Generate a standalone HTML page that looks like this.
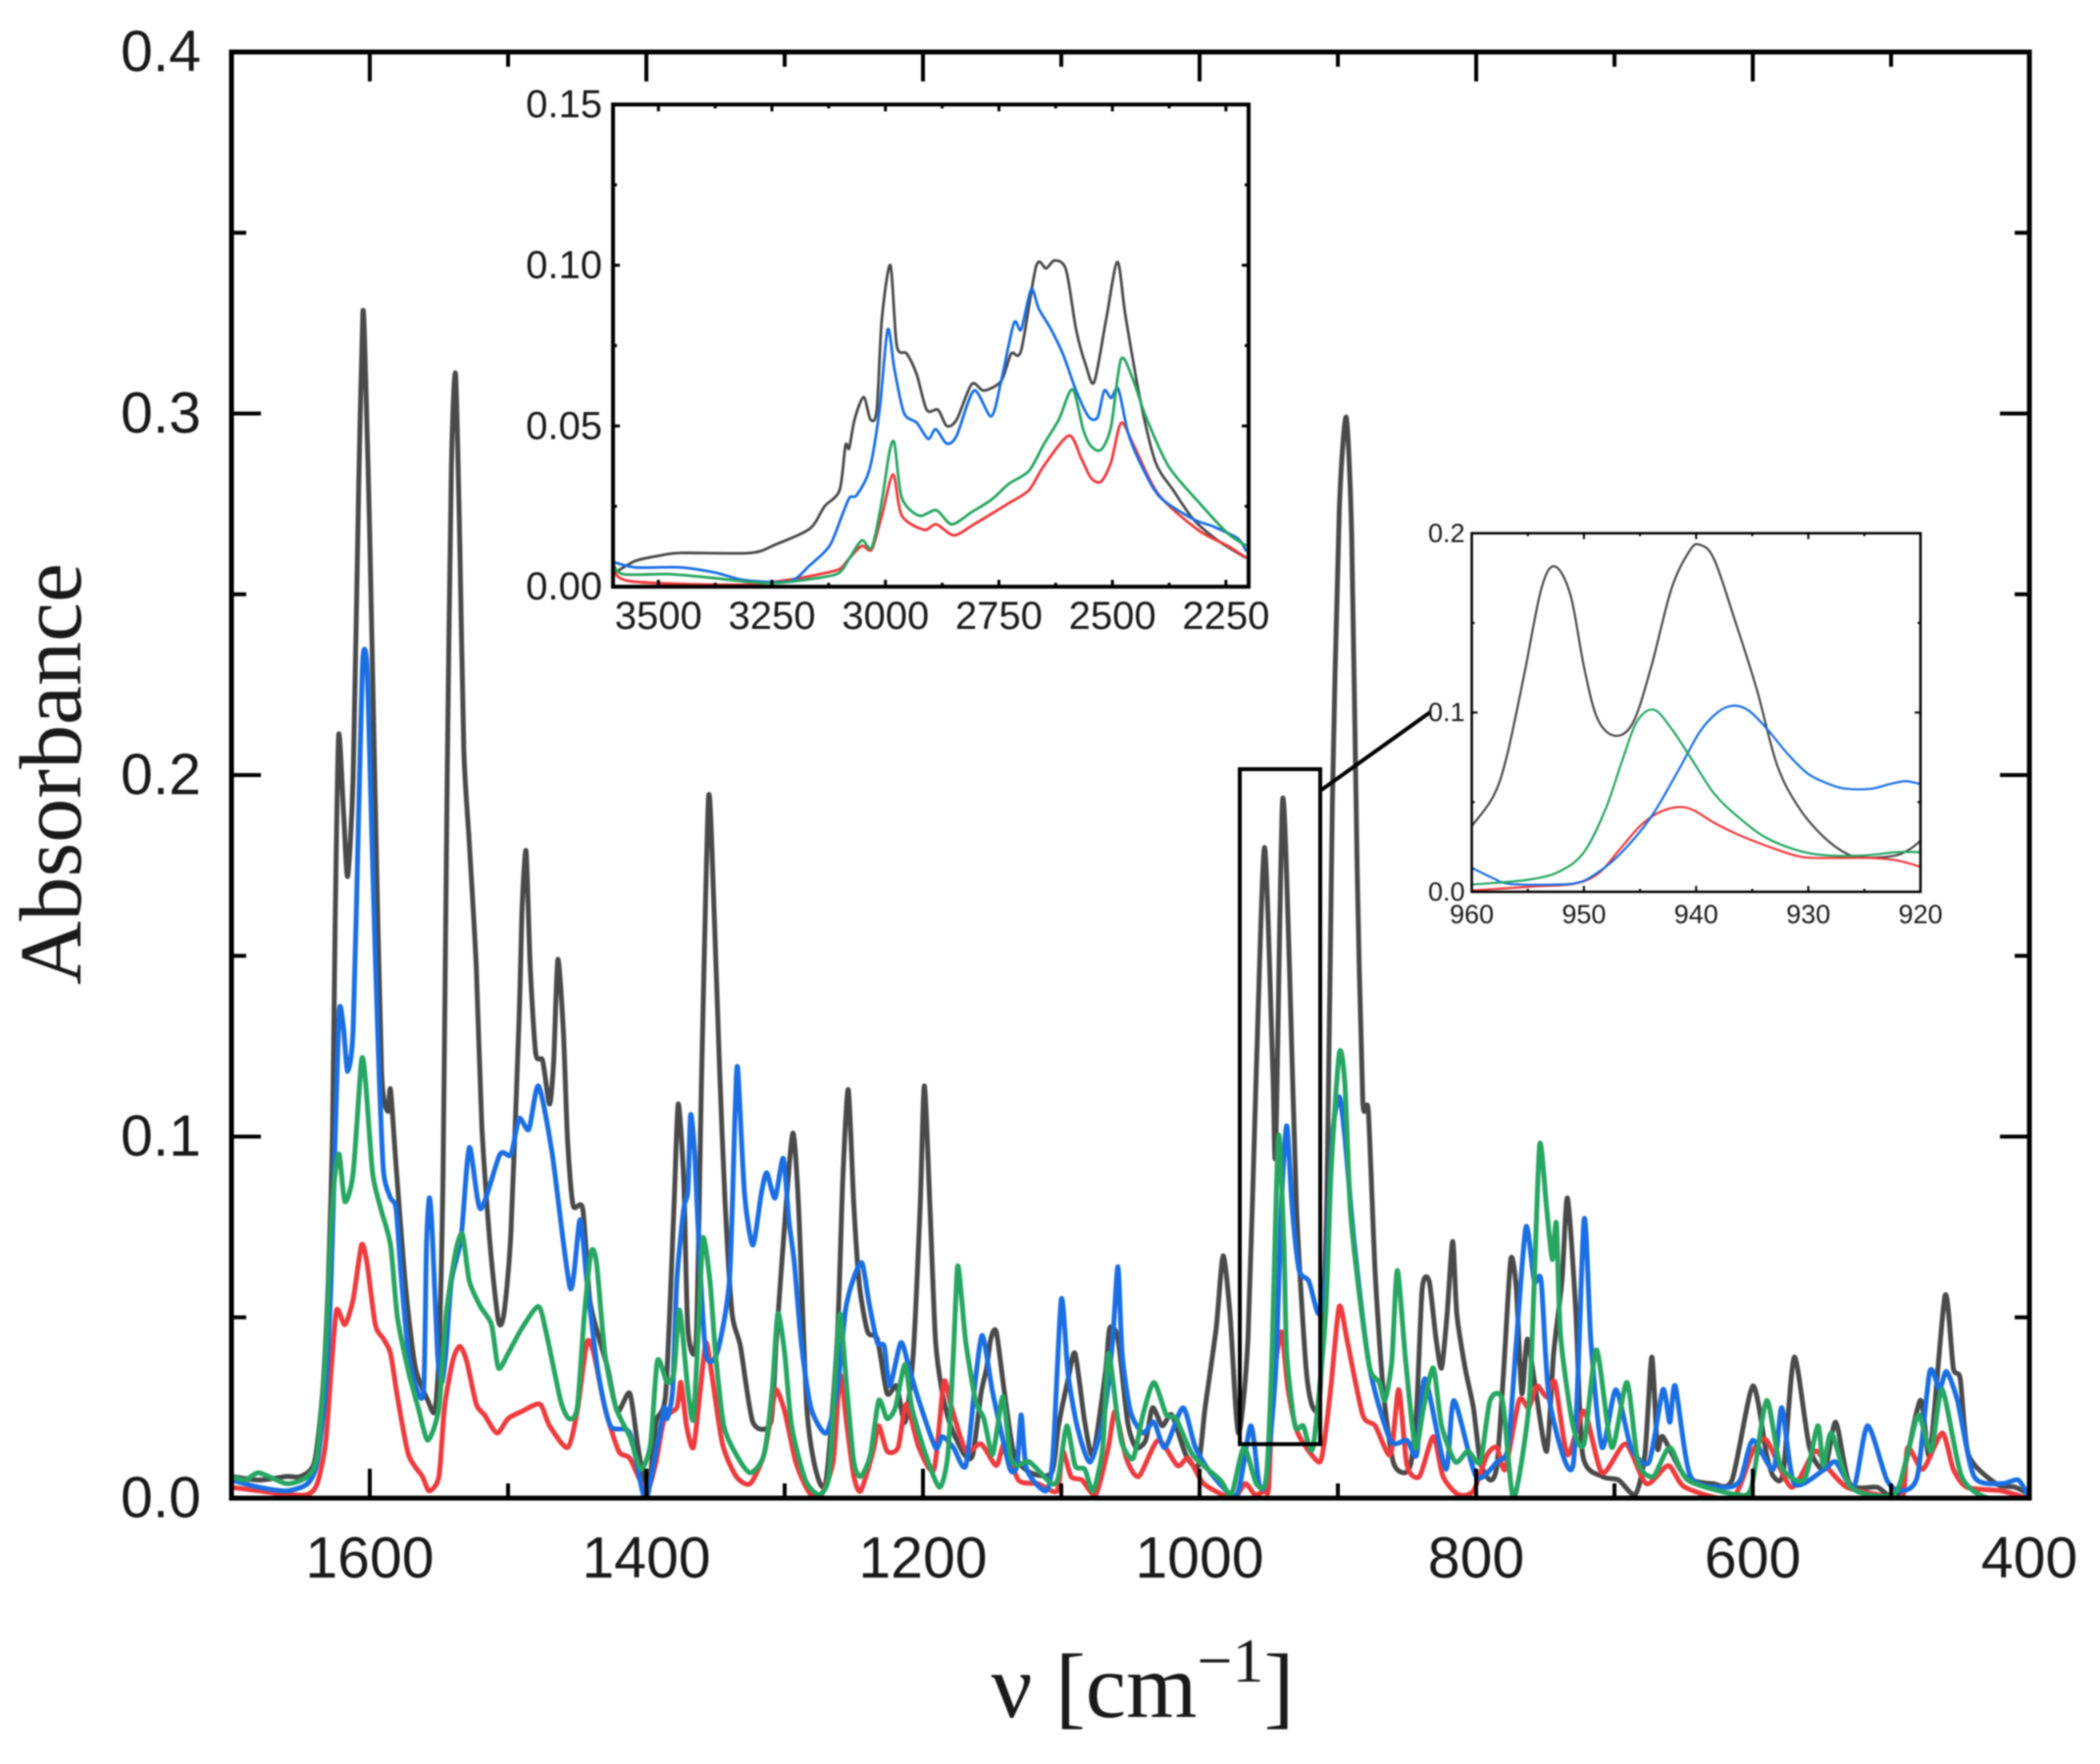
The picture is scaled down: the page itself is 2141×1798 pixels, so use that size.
<!DOCTYPE html>
<html lang="en">
<head>
<meta charset="utf-8">
<title>Absorbance spectra</title>
<style>
html,body{margin:0;padding:0;background:#fff;}
body{width:2141px;height:1798px;overflow:hidden;}
svg{display:block;filter:blur(0.8px);}
.sans{font-family:"Liberation Sans",sans-serif;fill:#1a1a1a;}
.serif{font-family:"Liberation Serif",serif;fill:#1a1a1a;}
</style>
</head>
<body>
<svg id="chart" xmlns="http://www.w3.org/2000/svg" width="2141" height="1798" viewBox="0 0 2141 1798">
  <rect width="2141" height="1798" fill="#fff"/>
  <defs>
    <clipPath id="clip-main"><rect x="236" y="53" width="1833" height="1474"/></clipPath>
    <clipPath id="clip-high"><rect x="625" y="106" width="648" height="492"/></clipPath>
    <clipPath id="clip-zoom"><rect x="1500" y="543" width="458" height="366"/></clipPath>
  </defs>
  <text class="serif" font-size="90" text-anchor="middle" transform="translate(82,789) rotate(-90)">Absorbance</text>
  <text class="serif" font-size="93" text-anchor="middle" x="1165" y="1750">ν [cm<tspan font-size="64" dy="-36">−1</tspan><tspan dy="36">]</tspan></text>
  <g id="layer-main"></g>
  <rect x="1264" y="784" width="82" height="688" fill="none" stroke="#000" stroke-width="4"/>
  <line x1="1346" y1="806" x2="1458" y2="726" stroke="#000" stroke-width="4"/>
  <g id="layer-high"></g>
  <g id="layer-zoom"></g>
</svg>
<script>
const mainYTickLabels = ["0.0","0.1","0.2","0.3","0.4"];
const mainXTickLabels = ["1600","1400","1200","1000","800","600","400"];
const highYTickLabels = ["0.00","0.05","0.10","0.15"];
const highXTickLabels = ["3500","3250","3000","2750","2500","2250"];
const zoomYTickLabels = ["0.0","0.1","0.2"];
const zoomXTickLabels = ["960","950","940","930","920"];

const mainBlack = [[1700,.006],[1680,.005],[1660,.006],[1650,.006],[1640,.01],[1634,.03],[1630,.06],[1627,.1],[1625,.16],[1622.5,.211],[1619,.19],[1616,.172],[1612,.2],[1608,.28],[1605,.328],[1603,.31],[1600,.266],[1596,.192],[1591.5,.118],[1587,.107],[1585,.113],[1581,.092],[1574,.058],[1567,.036],[1558,.027],[1553,.024],[1550,.04],[1547,.09],[1544,.2],[1541,.285],[1538,.311],[1535,.266],[1532,.207],[1528,.181],[1523,.147],[1519,.103],[1513,.07],[1507,.049],[1503,.051],[1498,.073],[1492,.133],[1490,.162],[1487,.179],[1484,.147],[1480,.123],[1475,.121],[1470,.109],[1467,.121],[1464,.149],[1460,.129],[1457,.099],[1453,.081],[1446,.08],[1441,.055],[1434,.044],[1428,.036],[1421,.024],[1412,.029],[1406,.014],[1399,.001],[1393,.021],[1386,.029],[1380,.081],[1377,.109],[1373,.088],[1370,.047],[1364,.044],[1360,.118],[1355,.194],[1351,.162],[1347,.118],[1343,.081],[1338,.051],[1332,.042],[1323,.021],[1310,.021],[1306,.044],[1299,.081],[1294,.101],[1290,.081],[1284,.025],[1277,.007],[1270,.005],[1262,.044],[1258,.088],[1254,.113],[1250,.081],[1246,.059],[1240,.046],[1233,.044],[1226,.029],[1219,.031],[1213,.021],[1207,.04],[1202,.081],[1199,.114],[1195,.081],[1191,.044],[1186,.029],[1180,.02],[1170,.012],[1164,.012],[1158,.029],[1154,.036],[1151,.044],[1147,.046],[1141,.029],[1134,.012],[1122,.007],[1107,.007],[1102,.02],[1095,.033],[1090,.04],[1083,.021],[1077,.012],[1068,.035],[1065,.047],[1059,.044],[1052,.021],[1046,.014],[1039,.016],[1034,.025],[1027,.02],[1020,.023],[1010,.012],[1001,.009],[996,.025],[988,.047],[983,.067],[978,.051],[972,.018],[965,.044],[959,.118],[953,.18],[947,.118],[945,.096],[940,.193],[935,.147],[930,.081],[923,.036],[918,.025],[913,.029],[908,.081],[904,.192],[899,.273],[894,.299],[890,.266],[886,.173],[882,.11],[878,.107],[873,.062],[867,.029],[860,.01],[852,.007],[847,.01],[843,.025],[839,.058],[834,.06],[829,.044],[825,.036],[821,.051],[817,.071],[814,.051],[808,.036],[802,.025],[797,.01],[790,.005],[785,.009],[780,.036],[775,.066],[771,.058],[767,.029],[763,.044],[757,.03],[749,.013],[744,.04],[738,.06],[734,.083],[728,.052],[723,.012],[709,.006],[697,.005],[685,.001],[678,.012],[673,.039],[669,.014],[665,.017],[649,.006],[629,.004],[615,.005],[600,.031],[590,.012],[585,.006],[578,.007],[570,.039],[559,.014],[548,.008],[540,.021],[530,.004],[510,.003],[495,.001],[479,.027],[472,.012],[461,.056],[455,.036],[450,.033],[444,.012],[424,.004],[410,.003],[400,.001]];
const mainRed = [[1700,.003],[1680,.002],[1660,.001],[1645,.001],[1638,.004],[1632,.015],[1628,.035],[1624,.052],[1618,.048],[1612,.055],[1606,.07],[1602,.065],[1596,.048],[1590,.044],[1585,.04],[1580,.028],[1572,.012],[1562,.006],[1557,.002],[1550,.006],[1546,.025],[1540,.038],[1535,.042],[1530,.038],[1523,.026],[1517,.023],[1508,.018],[1500,.022],[1490,.024],[1477,.026],[1470,.02],[1457,.014],[1450,.024],[1443,.043],[1438,.04],[1430,.025],[1420,.013],[1412,.011],[1400,.002],[1393,.01],[1387,.022],[1378,.025],[1375,.032],[1371,.02],[1366,.014],[1361,.03],[1357,.043],[1353,.035],[1345,.015],[1335,.006],[1325,.004],[1315,.012],[1309,.025],[1306,.03],[1300,.024],[1292,.01],[1283,.002],[1275,0],[1265,.01],[1260,.034],[1255,.02],[1250,.006],[1245,.002],[1236,.013],[1232,.02],[1226,.013],[1218,.014],[1212,.026],[1203,.014],[1192,.008],[1185,.032],[1180,.026],[1169,.013],[1158,.015],[1147,.009],[1141,.015],[1131,.005],[1117,.004],[1103,.002],[1099,.013],[1093,.006],[1085,.005],[1075,.001],[1066,.014],[1061,.024],[1053,.011],[1044,.006],[1030,.016],[1016,.009],[1008,.011],[997,.004],[976,0],[967,.004],[960,.001],[953,.002],[950,.003],[947,.03],[941,.046],[936,.03],[929,.018],[914,.01],[910,.015],[905,.031],[899,.053],[893,.043],[882,.023],[873,.02],[862,.012],[856,.03],[850,.009],[841,.006],[831,.017],[824,.006],[813,.001],[802,.002],[792,.012],[785,.014],[779,.008],[769,.027],[762,.025],[756,.031],[749,.028],[743,.032],[734,.012],[722,.024],[709,.007],[692,.015],[677,.004],[661,.009],[649,.003],[615,0],[600,.013],[590,.016],[572,.003],[555,.013],[545,.008],[532,.003],[510,.001],[492,0],[488,.014],[477,.008],[463,.018],[455,.008],[445,.003],[420,.002],[402,0]];
const mainBlue = [[1700,.005],[1680,.003],[1660,.002],[1645,.004],[1638,.01],[1632,.03],[1628,.06],[1625,.1],[1622,.135],[1619,.13],[1616,.118],[1612,.13],[1608,.19],[1605,.232],[1602,.23],[1599,.19],[1596,.15],[1593,.115],[1590,.09],[1585,.083],[1581,.08],[1577,.06],[1572,.04],[1566,.03],[1561,.03],[1559,.07],[1557,.083],[1555,.075],[1551,.04],[1548,.032],[1545,.04],[1541,.06],[1534,.072],[1528,.097],[1520,.08],[1506,.095],[1498,.095],[1492,.105],[1485,.102],[1478,.114],[1468,.095],[1455,.058],[1448,.077],[1443,.06],[1435,.035],[1426,.02],[1412,.018],[1401,0],[1392,.015],[1387,.025],[1385,.022],[1381,.03],[1378,.06],[1373,.08],[1370,.085],[1368,.106],[1365,.095],[1362,.07],[1357,.04],[1349,.04],[1340,.06],[1336,.105],[1334,.119],[1329,.084],[1323,.07],[1317,.084],[1313,.09],[1307,.083],[1301,.094],[1297,.077],[1293,.065],[1288,.043],[1281,.025],[1270,.018],[1262,.03],[1256,.052],[1250,.061],[1244,.065],[1239,.054],[1233,.043],[1228,.042],[1224,.031],[1216,.043],[1210,.036],[1203,.027],[1191,.014],[1186,.017],[1178,.014],[1169,.009],[1162,.033],[1157,.045],[1150,.03],[1145,.021],[1137,.008],[1132,.009],[1129,.023],[1125,.008],[1111,.002],[1106,.012],[1100,.055],[1095,.034],[1088,.019],[1079,.01],[1069,.023],[1063,.043],[1059,.064],[1056,.04],[1050,.024],[1041,.018],[1033,.021],[1025,.014],[1012,.025],[1003,.014],[990,.006],[973,.001],[963,.02],[957,.004],[952,.005],[945,.035],[941,.08],[937,.103],[933,.08],[928,.063],[921,.06],[914,.051],[909,.06],[904,.1],[899,.111],[895,.1],[888,.07],[877,.036],[862,.016],[850,.016],[843,.012],[837,.033],[822,.008],[816,.027],[800,.006],[785,.01],[777,.014],[771,.043],[764,.075],[758,.06],[753,.06],[747,.027],[730,.009],[722,.077],[717,.043],[709,.014],[699,.03],[688,.014],[675,.01],[665,.03],[660,.021],[656,.031],[645,.006],[620,.003],[609,.005],[600,.016],[585,.008],[579,.025],[570,.004],[548,.008],[540,.01],[527,.003],[517,.02],[503,.005],[493,.002],[481,.006],[472,.035],[465,.03],[460,.035],[452,.027],[440,.006],[420,.004],[408,.005],[400,0]];
const mainGreen = [[1700,.006],[1690,.005],[1680,.007],[1660,.004],[1645,.006],[1638,.012],[1632,.04],[1628,.075],[1625,.09],[1622,.095],[1618,.082],[1612,.09],[1606,.121],[1603,.115],[1598,.09],[1592,.08],[1585,.07],[1580,.05],[1572,.035],[1565,.025],[1558,.016],[1550,.025],[1545,.05],[1538,.068],[1533,.073],[1528,.06],[1520,.053],[1512,.048],[1507,.036],[1500,.04],[1490,.047],[1478,.053],[1472,.045],[1462,.027],[1456,.022],[1450,.025],[1445,.05],[1440,.068],[1436,.065],[1430,.04],[1422,.025],[1412,.017],[1404,.008],[1397,.015],[1392,.038],[1385,.032],[1380,.035],[1376,.052],[1370,.03],[1366,.022],[1362,.05],[1359,.072],[1354,.06],[1350,.04],[1344,.02],[1335,.012],[1325,.007],[1315,.012],[1309,.03],[1305,.051],[1300,.04],[1295,.02],[1285,.005],[1275,.001],[1268,.006],[1264,.03],[1260,.051],[1255,.03],[1250,.01],[1245,.006],[1238,.012],[1232,.027],[1226,.022],[1220,.025],[1213,.037],[1208,.025],[1198,.012],[1188,.003],[1182,.012],[1178,.04],[1175,.064],[1172,.055],[1169,.043],[1162,.027],[1156,.022],[1150,.012],[1146,.02],[1142,.028],[1137,.012],[1132,.009],[1123,.01],[1107,.004],[1102,.006],[1096,.02],[1090,.009],[1083,.008],[1077,.002],[1070,.014],[1066,.04],[1060,.024],[1056,.015],[1048,.011],[1041,.023],[1033,.032],[1024,.023],[1017,.022],[1005,.012],[985,.005],[977,.001],[968,.014],[959,.004],[952,.005],[948,.035],[943,.1],[939,.07],[937,.04],[931,.02],[925,.02],[918,.014],[909,.05],[905,.09],[899,.123],[895,.115],[891,.08],[885,.058],[877,.036],[870,.032],[866,.027],[861,.038],[857,.063],[851,.038],[844,.014],[838,.025],[831,.036],[825,.02],[815,.01],[806,.013],[797,.01],[790,.027],[781,.027],[773,0],[762,.025],[758,.06],[754,.098],[749,.08],[745,.066],[742,.076],[739,.045],[730,.02],[722,.015],[713,.041],[702,.014],[691,.032],[683,.01],[672,.006],[660,.014],[647,.005],[612,.001],[601,.003],[590,.027],[580,.009],[563,.005],[553,.02],[549,.009],[543,.018],[529,.003],[498,.001],[487,.014],[480,.023],[471,.013],[463,.03],[449,.006],[430,0],[400,0]];

const highBlack = [[3600,.004],[3551,.008],[3496,.0097],[3452,.0105],[3298,.0105],[3244,.013],[3167,.018],[3134,.025],[3101,.03],[3088,.044],[3080,.043],[3068,.052],[3048,.059],[3033,.052],[3019,.055],[3008,.083],[2989,.1],[2975,.075],[2953,.0725],[2931,.066],[2909,.055],[2884,.055],[2865,.05],[2843,.052],[2810,.063],[2783,.061],[2745,.064],[2723,.0725],[2701,.0735],[2668,.0997],[2646,.099],[2627,.1015],[2602,.0985],[2580,.08],[2558,.0686],[2540,.0637],[2514,.083],[2489,.101],[2471,.084],[2438,.0576],[2405,.0387],[2366,.03],[2322,.021],[2268,.0144],[2205,.0089]];
const highRed = [[3600,.006],[3562,.0017],[3320,.0006],[3211,.0022],[3145,.0039],[3101,.0055],[3079,.0089],[3052,.0127],[3030,.0116],[3008,.0221],[2983,.0349],[2964,.0221],[2915,.0177],[2888,.0194],[2849,.016],[2805,.0194],[2728,.026],[2684,.03],[2651,.0376],[2596,.047],[2569,.04],[2547,.0338],[2525,.0327],[2503,.0387],[2481,.0509],[2454,.0443],[2399,.0288],[2312,.0177],[2246,.0127],[2205,.0089]];
const highBlue = [[3600,.0077],[3551,.006],[3452,.006],[3375,.0044],[3309,.002],[3211,.0017],[3167,.0066],[3123,.0127],[3096,.022],[3079,.0277],[3063,.0285],[3035,.0365],[3013,.055],[2995,.08],[2980,.0675],[2959,.054],[2931,.051],[2906,.046],[2889,.049],[2865,.0445],[2843,.047],[2805,.061],[2767,.053],[2745,.064],[2717,.082],[2701,.08],[2679,.0925],[2662,.0864],[2635,.08],[2608,.072],[2580,.061],[2553,.053],[2533,.0526],[2518,.061],[2503,.0587],[2487,.0615],[2465,.0476],[2432,.0365],[2394,.0277],[2322,.021],[2279,.0188],[2224,.015],[2205,.011]];
const highGreen = [[3600,.0072],[3578,.0039],[3474,.0039],[3386,.0028],[3255,.0011],[3145,.0028],[3101,.0044],[3079,.0089],[3052,.0144],[3030,.0122],[3008,.0266],[2991,.042],[2980,.0445],[2964,.0277],[2926,.0221],[2888,.0238],[2854,.0194],[2810,.0232],[2767,.027],[2728,.032],[2684,.036],[2651,.0443],[2618,.052],[2588,.0614],[2564,.0487],[2547,.0437],[2525,.0426],[2503,.0498],[2481,.0708],[2454,.0642],[2427,.0531],[2377,.0376],[2312,.0266],[2246,.0166],[2205,.0127]];

const zoomBlack = [[960,.0367],[958.1,.053],[956.9,.075],[955.3,.122],[953.8,.169],[952.6,.1815],[951.2,.1655],[950,.1256],[948.8,.0966],[947.2,.087],[945.6,.0947],[944,.1256],[942.2,.169],[940.6,.19],[939.7,.1936],[938.4,.1855],[936.5,.1506],[934.6,.113],[932.8,.071],[930.9,.0475],[928.7,.031],[926.5,.021],[924.7,.019],[922.2,.0203],[920.9,.024],[920,.0285]];
const zoomRed = [[960,.0007],[954.4,.003],[950.9,.0044],[948.7,.0103],[946.9,.023],[945,.0367],[943.4,.044],[941.7,.0472],[940.3,.0457],[938.4,.0385],[936.3,.032],[933.8,.0258],[931.2,.0203],[929.4,.0189],[924.7,.0189],[922.2,.0176],[920,.014]];
const zoomBlue = [[960,.0134],[958.1,.0076],[956.6,.0044],[952.8,.004],[950.6,.005],[949.1,.0094],[946.9,.0203],[944.1,.041],[941.6,.0675],[939.7,.089],[938.1,.1],[936.7,.1038],[935.3,.101],[933.7,.091],[931.8,.0766],[930,.0657],[928.1,.06],[926.6,.0575],[924.4,.0575],[922.8,.06],[921.3,.0617],[920,.06]];
const zoomGreen = [[960,.004],[955,.0067],[952.2,.0113],[950,.0221],[948.1,.0457],[946.6,.073],[945.3,.0947],[943.8,.1016],[942.2,.091],[940.3,.073],[938.4,.0548],[936.3,.042],[933.8,.0303],[930.9,.023],[928.4,.0203],[925,.0203],[922.2,.0221],[920,.0221]];

const NS = 'http://www.w3.org/2000/svg';
const seriesColors = {black:'#4a4a4a', red:'#ee3b3e', blue:'#1b6fe3', green:'#27a662'};

function makeEl(tag, parent){
  const el = document.createElementNS(NS, tag);
  parent.appendChild(el);
  return el;
}
function linePath(points, sx, sy, k){
  const p = points.map(function(d){ return [sx(d[0]), sy(d[1])]; });
  let out = 'M' + p[0][0].toFixed(2) + ' ' + p[0][1].toFixed(2);
  for (let i = 0; i < p.length - 1; i++){
    const a = p[Math.max(i-1,0)], b = p[i], c = p[i+1], e = p[Math.min(i+2,p.length-1)];
    out += 'C' + (b[0]+(c[0]-a[0])*k).toFixed(2) + ' ' + (b[1]+(c[1]-a[1])*k).toFixed(2) + ' ' +
           (c[0]-(e[0]-b[0])*k).toFixed(2) + ' ' + (c[1]-(e[1]-b[1])*k).toFixed(2) + ' ' +
           c[0].toFixed(2) + ' ' + c[1].toFixed(2);
  }
  return out;
}
function drawPanel(cfg){
  const g = document.getElementById(cfg.layer);
  const sx = function(v){ return cfg.left + (cfg.xMax - v) * (cfg.right - cfg.left) / (cfg.xMax - cfg.xMin); };
  const sy = function(v){ return cfg.bottom - v * (cfg.bottom - cfg.top) / cfg.yMax; };

  cfg.series.forEach(function(s){
    const path = makeEl('path', g);
    
    
    path.setAttribute('d', linePath(s.data, sx, sy, cfg.smooth));
    path.setAttribute('fill', 'none');
    path.setAttribute('stroke', seriesColors[s.name]);
    path.setAttribute('stroke-width', cfg.lineWidth);
    path.setAttribute('stroke-linejoin', 'round');
    path.setAttribute('clip-path', 'url(#' + cfg.clip + ')');
  });

  cfg.yLabels.forEach(function(lab, i){
    const v = parseFloat(lab);
    const yy = sy(v);
    [[cfg.left, 1], [cfg.right, -1]].forEach(function(side){
      const t = makeEl('line', g);
      
      
      t.setAttribute('x1', side[0]);
      t.setAttribute('x2', side[0] + side[1] * cfg.major);
      t.setAttribute('y1', yy);
      t.setAttribute('y2', yy);
      t.setAttribute('stroke', '#000');
      t.setAttribute('stroke-width', cfg.tickWidth);
    });
    if (i < cfg.yLabels.length - 1){
      const my = sy(v + cfg.yStep / 2);
      [[cfg.left, 1], [cfg.right, -1]].forEach(function(side){
        const t = makeEl('line', g);
        
        
        t.setAttribute('x1', side[0]);
        t.setAttribute('x2', side[0] + side[1] * cfg.minor);
        t.setAttribute('y1', my);
        t.setAttribute('y2', my);
        t.setAttribute('stroke', '#000');
        t.setAttribute('stroke-width', cfg.tickWidth);
      });
    }
    const txt = makeEl('text', g);
    
    
    txt.setAttribute('class', 'sans');
    txt.setAttribute('font-size', cfg.font);
    txt.setAttribute('text-anchor', 'end');
    txt.setAttribute('x', cfg.left + cfg.yLabelDx);
    txt.setAttribute('y', yy + cfg.font * 0.33);
    txt.textContent = lab;
  });

  cfg.xLabels.forEach(function(lab){
    const v = parseFloat(lab);
    const xx = sx(v);
    [[cfg.bottom, -1], [cfg.top, 1]].forEach(function(side){
      const t = makeEl('line', g);
      
      
      t.setAttribute('x1', xx);
      t.setAttribute('x2', xx);
      t.setAttribute('y1', side[0]);
      t.setAttribute('y2', side[0] + side[1] * cfg.major);
      t.setAttribute('stroke', '#000');
      t.setAttribute('stroke-width', cfg.tickWidth);
    });
    const mv = v + cfg.xStep / 2;
    if (mv < cfg.xMax){
      const mx = sx(mv);
      [[cfg.bottom, -1], [cfg.top, 1]].forEach(function(side){
        const t = makeEl('line', g);
        
        
        t.setAttribute('x1', mx);
        t.setAttribute('x2', mx);
        t.setAttribute('y1', side[0]);
        t.setAttribute('y2', side[0] + side[1] * cfg.minor);
        t.setAttribute('stroke', '#000');
        t.setAttribute('stroke-width', cfg.tickWidth);
      });
    }
    const txt = makeEl('text', g);
    
    
    txt.setAttribute('class', 'sans');
    txt.setAttribute('font-size', cfg.font);
    txt.setAttribute('text-anchor', 'middle');
    txt.setAttribute('x', xx);
    txt.setAttribute('y', cfg.xLabelY);
    txt.textContent = lab;
  });

  const frame = makeEl('rect', g);
  
  
  frame.setAttribute('x', cfg.left);
  frame.setAttribute('y', cfg.top);
  frame.setAttribute('width', cfg.right - cfg.left);
  frame.setAttribute('height', cfg.bottom - cfg.top);
  frame.setAttribute('fill', 'none');
  frame.setAttribute('stroke', '#000');
  frame.setAttribute('stroke-width', cfg.frameWidth);
}

drawPanel({layer:'layer-main', prefix:'main', clip:'clip-main', left:236, right:2069, top:53, bottom:1527,
  xMax:1700, xMin:400, yMax:.4, xStep:200, yStep:.1, lineWidth:5, frameWidth:5, tickWidth:4, major:30, minor:15, font:59, smooth:.12,
  yLabels:mainYTickLabels, xLabels:mainXTickLabels, yLabelDx:-31, xLabelY:1608,
  series:[{name:'black',data:mainBlack},{name:'red',data:mainRed},{name:'blue',data:mainBlue},{name:'green',data:mainGreen}]});

drawPanel({layer:'layer-high', prefix:'high', clip:'clip-high', left:625, right:1273, top:106.5, bottom:598,
  xMax:3600, xMin:2200, yMax:.15, xStep:250, yStep:.05, lineWidth:2.8, frameWidth:4, tickWidth:3, major:7, minor:4, font:40, smooth:.14,
  yLabels:highYTickLabels, xLabels:highXTickLabels, yLabelDx:-11, xLabelY:641,
  series:[{name:'black',data:highBlack},{name:'red',data:highRed},{name:'blue',data:highBlue},{name:'green',data:highGreen}]});

drawPanel({layer:'layer-zoom', prefix:'zoom', clip:'clip-zoom', left:1500.5, right:1958, top:543.5, bottom:909,
  xMax:960, xMin:920, yMax:.2, xStep:10, yStep:.1, lineWidth:2.2, frameWidth:2.5, tickWidth:2, major:6, minor:3, font:27, smooth:.167,
  yLabels:zoomYTickLabels, xLabels:zoomXTickLabels, yLabelDx:-7, xLabelY:941,
  series:[{name:'black',data:zoomBlack},{name:'red',data:zoomRed},{name:'blue',data:zoomBlue},{name:'green',data:zoomGreen}]});
</script>
</body>
</html>
